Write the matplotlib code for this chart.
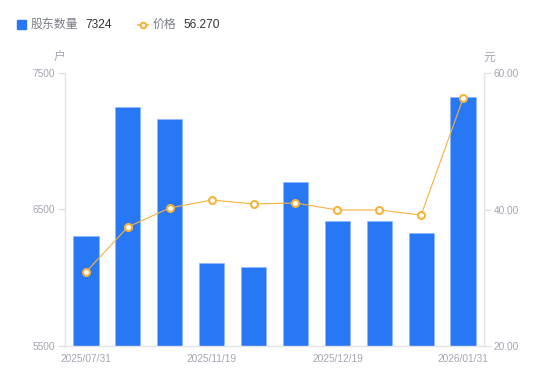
import numpy as np
import matplotlib
matplotlib.use('Agg')
import matplotlib.pyplot as plt
from matplotlib.patches import Rectangle
from matplotlib.lines import Line2D

plt.rcParams['font.family'] = ['Noto Sans CJK SC', 'DejaVu Sans']
num_font = ['Liberation Sans', 'DejaVu Sans']

# data
dates = ['2025/07/31', '2025/08/29', '2025/09/30', '2025/11/19', '2025/11/28',
         '2025/12/10', '2025/12/19', '2025/12/31', '2026/01/20', '2026/01/31']
holders = [6306, 7251, 7163, 6108, 6079, 6701, 6416, 6416, 6328, 7324]
price = [30.84, 37.44, 40.22, 41.39, 40.81, 40.95, 39.93, 39.93, 39.19, 56.27]

bar_color = '#2878F6'
line_color = '#F7B23B'
axis_color = '#E3E3E6'
tick_color = '#A3A5B3'

W, H = 550, 381
fig = plt.figure(figsize=(W / 100, H / 100), dpi=100)
ax = fig.add_axes([65 / W, 1 - 346 / H, (484 - 65) / W, (346 - 73) / H])
ax2 = ax.twinx()

x = np.arange(len(dates))
ax.bar(x, holders, width=0.6, color=bar_color, edgecolor='#8DB8FA', linewidth=0.6, zorder=2)
ax.set_xlim(-0.5, len(dates) - 0.5)
ax.set_ylim(5500, 7500)
ax.set_yticks([5500, 6500, 7500])
ax.set_xticks(x[::3])
ax.set_xticklabels(dates[::3])

ax2.plot(x, price, color=line_color, lw=0.8, marker='o', ms=5,
         mfc='white', mec=line_color, mew=1.5, zorder=3)
ax2.set_ylim(20, 60)
ax2.set_yticks([20, 40, 60])
ax2.set_yticklabels(['%.2f' % v for v in [20, 40, 60]])

for a in (ax, ax2):
    for s in a.spines.values():
        s.set_visible(False)
ax.spines['left'].set_visible(True)
ax.spines['bottom'].set_visible(True)
ax2.spines['right'].set_visible(True)
for s in (ax.spines['left'], ax.spines['bottom'], ax2.spines['right']):
    s.set_color(axis_color)
    s.set_linewidth(1)

ax.tick_params(axis='y', length=5, width=1, color=axis_color, labelcolor=tick_color,
               labelsize=7.3, pad=2)
ax.tick_params(axis='x', length=0, labelcolor=tick_color, labelsize=7.3, pad=6)
ax2.tick_params(axis='y', length=5, width=1, color=axis_color, labelcolor=tick_color,
                labelsize=7.3, pad=2)
for lab in ax.get_xticklabels() + ax.get_yticklabels() + ax2.get_yticklabels():
    lab.set_fontfamily(num_font)

# units
fig.text(60 / W, 1 - 57 / H, '户', color=tick_color, fontsize=8.5, ha='center', va='center')
fig.text(489 / W, 1 - 57 / H, '元', color=tick_color, fontsize=8.5, ha='center', va='center')

# legend
ly = 1 - 24.5 / H
fig.patches.append(Rectangle((17 / W, 1 - 29 / H), 9 / W, 9 / H, transform=fig.transFigure,
                             color=bar_color, figure=fig))
fig.text(30.5 / W, ly, '股东数量', color='#7A7D88', fontsize=8.6, va='center')
fig.text(85 / W, ly, str(holders[-1]), color='#333333', fontsize=8.6, va='center',
         family=num_font)
fig.lines.append(Line2D([138 / W, 148 / W], [ly, ly], transform=fig.transFigure,
                        color=line_color, lw=1.2, figure=fig))
fig.lines.append(Line2D([143 / W], [ly], transform=fig.transFigure, color=line_color,
                        marker='o', ms=4, mfc='white', mec=line_color, mew=1.5, figure=fig))
fig.text(153 / W, ly, '价格', color='#7A7D88', fontsize=8.6, va='center')
fig.text(183 / W, ly, '%.3f' % price[-1], color='#333333', fontsize=8.6, va='center',
         family=num_font)

fig.savefig('out.png', dpi=100)
